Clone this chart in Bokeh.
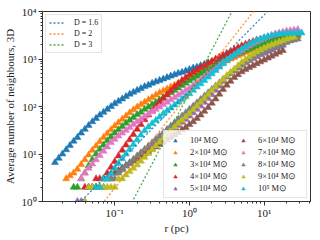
import numpy as np
from bokeh.plotting import figure
from bokeh.models import (Legend, LegendItem, LogTicker, CustomJSTickFormatter, Range1d)
from bokeh.embed import file_html
from bokeh.resources import INLINE

# common radius grid, log10(r / pc)
log_r_grid = [-1.80, -1.75, -1.70, -1.65, -1.60, -1.55, -1.50, -1.45, -1.40, -1.35,
              -1.30, -1.25, -1.20, -1.15, -1.10, -1.05, -1.00, -0.95, -0.90, -0.85,
              -0.80, -0.75, -0.70, -0.65, -0.60, -0.55, -0.50, -0.45, -0.40, -0.35,
              -0.30, -0.25, -0.20, -0.15, -0.10, -0.05, 0.00, 0.05, 0.10, 0.15,
              0.20, 0.25, 0.30, 0.35, 0.40, 0.45, 0.50, 0.55, 0.60, 0.65,
              0.70, 0.75, 0.80, 0.85, 0.90, 0.95, 1.00, 1.05, 1.10, 1.15,
              1.20, 1.25, 1.30, 1.35, 1.40, 1.45, 1.50]

labels = ["10⁴ M⊙", "2×10⁴ M⊙", "3×10⁴ M⊙", "4×10⁴ M⊙", "5×10⁴ M⊙",
          "6×10⁴ M⊙", "7×10⁴ M⊙", "8×10⁴ M⊙", "9×10⁴ M⊙", "10⁵ M⊙"]
colors = ["#1f77b4", "#ff7f0e", "#2ca02c", "#d62728", "#9467bd",
          "#8c564b", "#e377c2", "#7f7f7f", "#bcbd22", "#17becf"]

# first log10 r of each series
start_logr = [-1.80, -1.65, -1.55, -1.40, -1.50, -1.35, -1.45, -1.30, -1.40, -1.25]

# log10 of average neighbour count
logn_1e4 = [0.82, 0.91, 1.00, 1.09, 1.18, 1.27, 1.35, 1.44, 1.52, 1.60, 1.68, 1.75, 1.82,
            1.88, 1.94, 2.00, 2.06, 2.11, 2.16, 2.21, 2.26, 2.30, 2.34, 2.38, 2.42, 2.45,
            2.49, 2.52, 2.55, 2.58, 2.61, 2.64, 2.67, 2.70, 2.72, 2.75, 2.78, 2.81, 2.83,
            2.86, 2.89, 2.92, 2.94, 2.97, 3.00, 3.03, 3.05, 3.08, 3.11, 3.13, 3.16, 3.18,
            3.21, 3.23, 3.26, 3.28, 3.30, 3.32, 3.34, 3.35, 3.37, 3.38, 3.40, 3.41, 3.42]
logn_2e4 = [0.48, 0.54, 0.60, 0.68, 0.78, 0.88, 0.98, 1.08, 1.17, 1.26, 1.35, 1.43,
            1.51, 1.59, 1.66, 1.73, 1.80, 1.87, 1.93, 1.99, 2.04, 2.09, 2.14, 2.19, 2.24,
            2.29, 2.33, 2.37, 2.41, 2.45, 2.49, 2.53, 2.57, 2.61, 2.65, 2.68, 2.72, 2.75,
            2.79, 2.82, 2.86, 2.89, 2.93, 2.96, 3.00, 3.03, 3.07, 3.10, 3.14, 3.17, 3.20,
            3.23, 3.26, 3.29, 3.32, 3.35, 3.38, 3.40, 3.42, 3.44, 3.46, 3.47, 3.48]
logn_3e4 = [0.30, 0.30, 0.48, 0.60, 0.75, 0.88, 1.00, 1.10, 1.19, 1.28, 1.36, 1.44, 1.51,
            1.58, 1.65, 1.71, 1.77, 1.83, 1.88, 1.94, 1.99, 2.04, 2.09, 2.14, 2.19, 2.24,
            2.29, 2.34, 2.39, 2.44, 2.49, 2.54, 2.59, 2.64, 2.69, 2.74, 2.79, 2.84, 2.88,
            2.92, 2.96, 3.00, 3.04, 3.07, 3.11, 3.14, 3.18, 3.21, 3.24, 3.27, 3.30, 3.33,
            3.36, 3.38, 3.41, 3.43, 3.45, 3.47, 3.49, 3.50, 3.51]
logn_4e4 = [0.30, 0.30, 0.30, 0.48, 0.48, 0.48, 0.60, 0.72, 0.84, 0.96, 1.08, 1.19, 1.30,
            1.41, 1.52, 1.62, 1.72, 1.82, 1.91, 2.00, 2.09, 2.17, 2.25, 2.33, 2.41, 2.48,
            2.55, 2.61, 2.67, 2.72, 2.77, 2.82, 2.86, 2.91, 2.95, 3.00, 3.04, 3.08, 3.12,
            3.16, 3.20, 3.24, 3.28, 3.31, 3.34, 3.37, 3.40, 3.42, 3.44, 3.46, 3.48, 3.50,
            3.51, 3.53, 3.54, 3.55, 3.55, 3.56]
logn_5e4 = [0.00, 0.00, 0.00, 0.30, 0.30, 0.30, 0.30, 0.30, 0.48, 0.48, 0.60, 0.65, 0.70,
            0.76, 0.81, 0.87, 0.93, 0.98, 1.04, 1.09, 1.15, 1.21, 1.28, 1.34, 1.41, 1.47,
            1.54, 1.60, 1.67, 1.73, 1.80, 1.87, 1.94, 2.01, 2.09, 2.17, 2.25, 2.34, 2.43,
            2.53, 2.62, 2.70, 2.76, 2.82, 2.88, 2.93, 2.97, 3.01, 3.05, 3.09, 3.12, 3.16,
            3.19, 3.23, 3.26, 3.29]
logn_6e4 = [0.30, 0.30, 0.30, 0.30, 0.48, 0.48, 0.48, 0.60, 0.65, 0.70, 0.75, 0.80, 0.85,
            0.90, 0.95, 1.00, 1.05, 1.10, 1.15, 1.20, 1.25, 1.30, 1.35, 1.40, 1.45, 1.51,
            1.56, 1.62, 1.68, 1.75, 1.82, 1.90, 1.98, 2.07, 2.16, 2.26, 2.36, 2.45, 2.53,
            2.61, 2.67, 2.73, 2.78, 2.82, 2.86, 2.90, 2.94, 2.98, 3.02, 3.06, 3.10, 3.14,
            3.18]
logn_7e4 = [0.48, 0.60, 0.70, 0.79, 0.88, 0.97, 1.06, 1.15, 1.24, 1.31, 1.38, 1.44, 1.50,
            1.56, 1.62, 1.68, 1.73, 1.79, 1.84, 1.89, 1.94, 1.99, 2.04, 2.09, 2.14, 2.19,
            2.24, 2.29, 2.34, 2.39, 2.44, 2.50, 2.56, 2.62, 2.68, 2.74, 2.80, 2.86, 2.92,
            2.97, 3.03, 3.08, 3.13, 3.18, 3.23, 3.28, 3.32, 3.36, 3.40, 3.44, 3.47, 3.50,
            3.53, 3.55, 3.57, 3.59, 3.60, 3.61, 3.62]
logn_8e4 = [0.30, 0.30, 0.30, 0.30, 0.48, 0.48, 0.48, 0.60, 0.67, 0.75, 0.82, 0.89, 0.96,
            1.03, 1.10, 1.17, 1.24, 1.31, 1.38, 1.45, 1.52, 1.59, 1.66, 1.73, 1.80, 1.87,
            1.94, 2.01, 2.08, 2.15, 2.22, 2.29, 2.36, 2.43, 2.50, 2.57, 2.63, 2.69, 2.75,
            2.81, 2.87, 2.92, 2.97, 3.02, 3.07, 3.11, 3.15, 3.19, 3.23, 3.26, 3.29, 3.32,
            3.35, 3.38, 3.40, 3.42]
logn_9e4 = [0.00, 0.30, 0.30, 0.30, 0.30, 0.30, 0.30, 0.30, 0.30, 0.48, 0.48, 0.56, 0.63,
            0.70, 0.77, 0.85, 0.93, 1.01, 1.09, 1.17, 1.25, 1.33, 1.41, 1.49, 1.57, 1.64,
            1.71, 1.78, 1.85, 1.93, 2.01, 2.09, 2.17, 2.25, 2.33, 2.41, 2.49, 2.57, 2.65,
            2.72, 2.79, 2.86, 2.93, 2.99, 3.05, 3.10, 3.15, 3.19, 3.23, 3.27, 3.30, 3.33,
            3.36, 3.39, 3.42, 3.44, 3.46]
logn_1e5 = [0.30, 0.30, 0.48, 0.48, 0.59, 0.70, 0.80, 0.90, 1.00, 1.10, 1.20, 1.30, 1.40,
            1.49, 1.57, 1.64, 1.71, 1.78, 1.85, 1.91, 1.97, 2.03, 2.09, 2.15, 2.21, 2.27,
            2.34, 2.41, 2.48, 2.55, 2.62, 2.69, 2.76, 2.83, 2.90, 2.97, 3.03, 3.09, 3.15,
            3.21, 3.26, 3.31, 3.35, 3.39, 3.42, 3.45, 3.47, 3.49, 3.51, 3.52, 3.53, 3.54,
            3.54, 3.55, 3.55, 3.55]

series = [logn_1e4, logn_2e4, logn_3e4, logn_4e4, logn_5e4,
          logn_6e4, logn_7e4, logn_8e4, logn_9e4, logn_1e5]

# reference power laws N = 10**b * r**D
dims = [1.6, 2.0, 3.0]
dim_labels = ["D = 1.6", "D = 2", "D = 3"]
dim_logb = [2.328, 2.284, 2.292]
dim_colors = ["#1f77b4", "#ff7f0e", "#2ca02c"]

X0, X1 = 10 ** -1.967, 10 ** 1.62
Y0, Y1 = 1.0, 1.0e4

FONT = "Liberation Serif"

p = figure(width=320, height=240, x_axis_type="log", y_axis_type="log",
           x_range=Range1d(X0, X1), y_range=Range1d(Y0, Y1),
           output_backend="svg", toolbar_location=None,
           min_border_left=41, min_border_right=10, min_border_top=11, min_border_bottom=39)
p.xgrid.visible = False
p.ygrid.visible = False
p.outline_line_color = "#333333"
p.outline_line_width = 1

fmt = CustomJSTickFormatter(code="""
const sup = {'-':'\u207b','0':'\u2070','1':'\u00b9','2':'\u00b2','3':'\u00b3','4':'\u2074',
             '5':'\u2075','6':'\u2076','7':'\u2077','8':'\u2078','9':'\u2079'};
const e = Math.round(Math.log10(tick));
return '10' + String(e).split('').map(c => sup[c]).join('');
""")

for ax in (p.xaxis[0], p.yaxis[0]):
    ax.ticker = LogTicker(num_minor_ticks=10)
    ax.formatter = fmt
    ax.major_label_text_font = FONT
    ax.major_label_text_font_size = "11px"
    ax.major_label_text_color = "#222222"
    ax.axis_label_text_font = FONT
    ax.axis_label_text_font_size = "11px"
    ax.axis_label_text_font_style = "normal"
    ax.axis_label_text_color = "#222222"
    ax.axis_line_color = "#333333"
    ax.major_tick_line_color = "#333333"
    ax.minor_tick_line_color = "#333333"
    ax.major_tick_out = 4
    ax.major_tick_in = 0
    ax.minor_tick_out = 2
    ax.minor_tick_in = 0

p.xaxis.major_label_standoff = 1
p.xaxis.axis_label_standoff = 0
p.yaxis.major_label_standoff = 2
p.yaxis.axis_label_standoff = 3
p.xaxis.axis_label = "r (pc)"
p.yaxis.axis_label = "Average number of neighbours, 3D"

scatter_items = []
for lab, col, s0, vals in zip(labels, colors, start_logr, series):
    k0 = log_r_grid.index(s0)
    xs = 10 ** np.array(log_r_grid[k0:k0 + len(vals)])
    ys = 10 ** np.array(vals)
    r = p.scatter(xs, ys, marker="triangle", size=7, fill_color=col, line_color=col,
                  line_width=0.5)
    scatter_items.append(LegendItem(label=lab, renderers=[r]))

line_items = []
lx = np.array([X0, X1])
for d, lab, b, col in zip(dims, dim_labels, dim_logb, dim_colors):
    ly = 10 ** b * lx ** d
    r = p.line(lx, ly, line_color=col, line_width=1.3, line_dash="2 2", line_alpha=0.85)
    line_items.append(LegendItem(label=lab, renderers=[r]))

def style(leg, size):
    leg.label_text_font = FONT
    leg.label_text_font_size = size
    leg.label_text_color = "#222222"
    leg.border_line_color = "#cccccc"
    leg.border_line_width = 1
    leg.background_fill_alpha = 0.8
    leg.margin = 3

leg1 = Legend(items=line_items, location="top_left")
style(leg1, "8px")
leg1.glyph_width = 16
leg1.glyph_height = 9
leg1.label_height = 9
leg1.label_standoff = 9
leg1.spacing = 2
leg1.padding = 3
p.add_layout(leg1)

leg2 = Legend(items=scatter_items, location="bottom_right", ncols=2)
style(leg2, "8.5px")
leg2.glyph_width = 14
leg2.glyph_height = 9
leg2.label_height = 9
leg2.label_width = 44
leg2.label_standoff = 8
leg2.spacing = 2
leg2.padding = 4
p.add_layout(leg2)

open("out.html", "w").write(file_html(p, INLINE))
